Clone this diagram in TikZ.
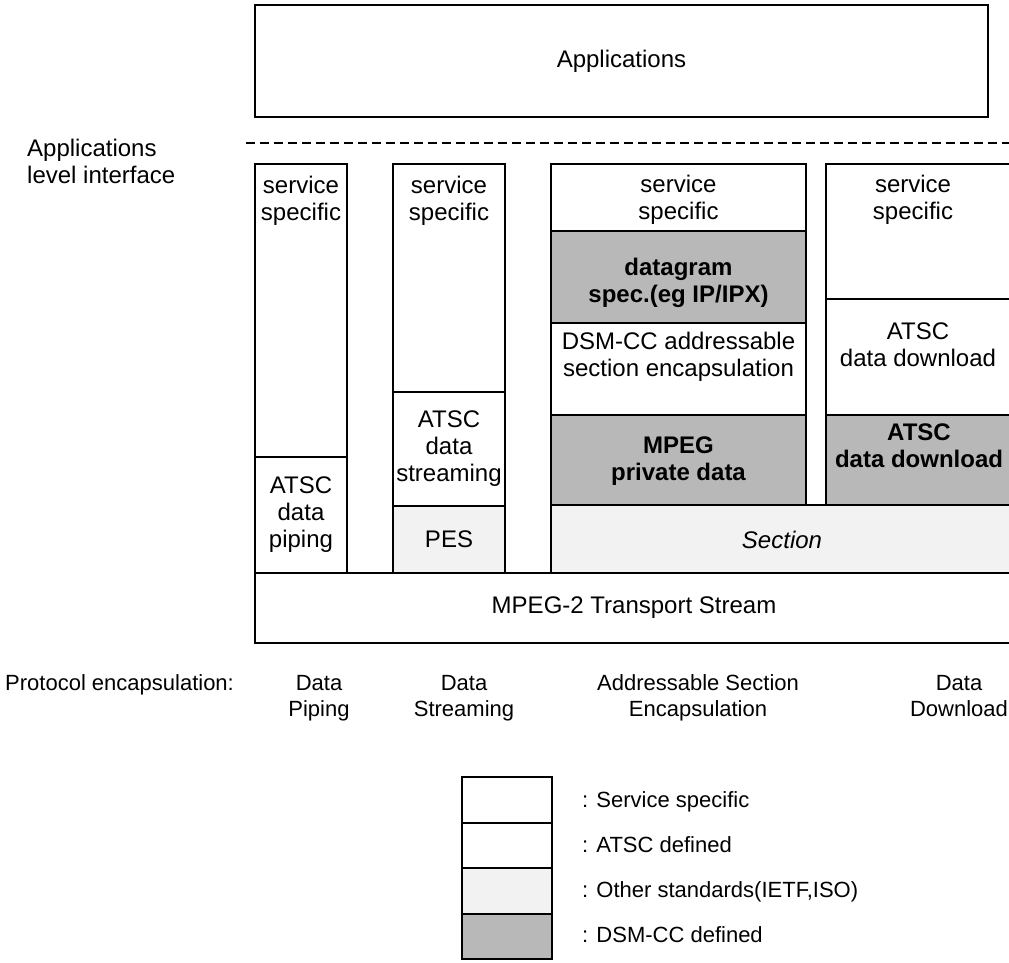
\documentclass[tikz,border=0pt]{standalone}
\usepackage{fontspec}
\setmainfont{Liberation Sans}
\usetikzlibrary{fit}
\definecolor{dsm}{gray}{0.72}
\definecolor{oth}{gray}{0.95}
\begin{document}
\begin{tikzpicture}[x=1pt,y=-1pt,
  cell/.style={draw, line width=1.4pt, rectangle, inner sep=0pt},
  txt/.style={inner sep=0pt, align=center, font=\fontsize{24}{27}\selectfont},
  btxt/.style={inner sep=0pt, align=center, font=\fontsize{24}{27}\selectfont\bfseries},
  lab/.style={inner sep=0pt, align=center, font=\fontsize{22}{26}\selectfont},
  dashline/.style={line width=1.5pt, dash pattern=on 9pt off 5pt}]
\useasboundingbox (0,0) rectangle (1009,962);
\clip (0,0) rectangle (1009,962);

% Applications
\node[cell, fit={(255,5)(988,117)}] (app) {};
\node[txt] (tapp) at (621.5,61) {Applications};
\coordinate (dl) at (246,143);
\coordinate (dr) at (1012,143);
\draw[dashline] (dl) -- (dr);
\node[txt, align=left, anchor=base west] (ali) at (27,183) {Applications\\level interface};

% column 1
\node[cell, fit={(255,164)(347,457)}] (c1a) {};
\node[txt] (t1a) at (301,201) {service\\specific};
\node[cell, fit={(255,457)(347,573)}] (c1b) {};
\node[txt] (t1b) at (301,515) {ATSC\\data\\piping};

% column 2
\node[cell, fit={(393,164)(505,392)}] (c2a) {};
\node[txt] (t2a) at (449,201) {service\\specific};
\node[cell, fit={(393,392)(505,506)}] (c2b) {};
\node[txt] (t2b) at (449,449) {ATSC\\data\\streaming};
\node[cell, fill=oth, fit={(393,506)(505,573)}] (c2c) {};
\node[txt] (t2c) at (449,539.5) {PES};

% column 3
\node[cell, fit={(551,164)(806,231)}] (c3a) {};
\node[txt] (t3a) at (678.5,200) {service\\specific};
\node[cell, fill=dsm, fit={(551,231)(806,323)}] (c3b) {};
\node[btxt] (t3b) at (678.5,283) {datagram\\spec.(eg IP/IPX)};
\node[cell, fit={(551,323)(806,415)}] (c3c) {};
\node[txt] (t3c) at (678.5,357) {DSM-CC addressable\\section encapsulation};
\node[cell, fill=dsm, fit={(551,415)(806,505)}] (c3d) {};
\node[btxt] (t3d) at (678.5,461) {MPEG\\private data};

% column 4
\node[cell, fit={(826,164)(1020,299)}] (c4a) {};
\node[txt] (t4a) at (913,200) {service\\specific};
\node[cell, fit={(826,299)(1020,415)}] (c4b) {};
\node[txt] (t4b) at (918,345) {ATSC\\data download};
\node[cell, fill=dsm, fit={(826,415)(1020,505)}] (c4c) {};
\node[btxt] (t4c) at (919,446) {ATSC\\data download};

% section and transport stream
\node[cell, fill=oth, fit={(551,505)(1020,573)}] (sec) {};
\node[txt, font=\fontsize{24}{27}\selectfont\itshape] (tsec) at (782,540) {Section};
\node[cell, fit={(255,573)(1020,643)}] (ts) {};
\node[txt] (tts) at (634,608) {MPEG-2 Transport Stream};

% bottom labels
\node[lab, anchor=base west] (pe) at (5,690) {Protocol encapsulation:};
\node[lab, anchor=base] (b1) at (319,716) {Data\\Piping};
\node[lab, anchor=base] (b2) at (464,716) {Data\\Streaming};
\node[lab, anchor=base] (b3) at (698,716) {Addressable Section\\Encapsulation};
\node[lab, anchor=base] (b4) at (959,716) {Data\\Download};

% legend
\node[cell, fit={(462,777)(552,823)}] (l1) {};
\node[cell, fit={(462,823)(552,868)}] (l2) {};
\node[cell, fill=oth, fit={(462,868)(552,914)}] (l3) {};
\node[cell, fill=dsm, fit={(462,914)(552,959)}] (l4) {};
\node[lab, anchor=base west] (ll1) at (582,807) {: Service specific};
\node[lab, anchor=base west] (ll2) at (582,852) {: ATSC defined};
\node[lab, anchor=base west] (ll3) at (582,897) {: Other standards(IETF,ISO)};
\node[lab, anchor=base west] (ll4) at (582,942) {: DSM-CC defined};
\end{tikzpicture}
\end{document}
